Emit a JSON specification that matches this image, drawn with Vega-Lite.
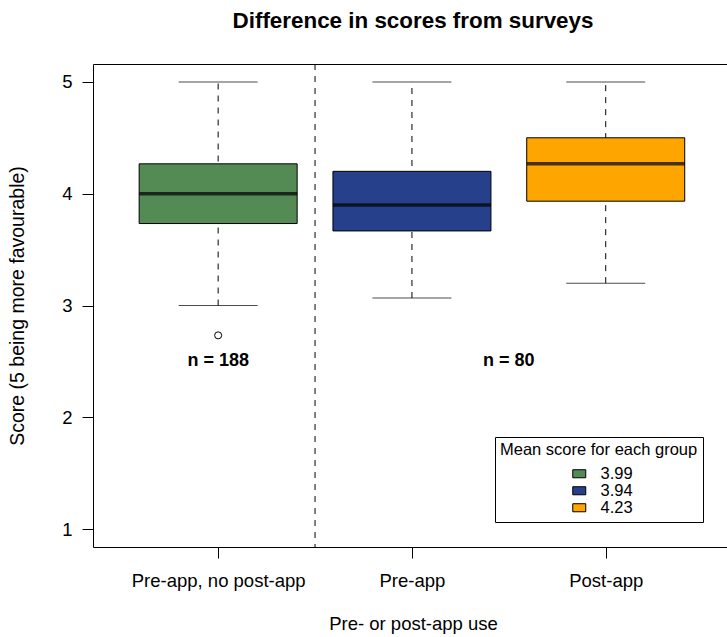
{
  "$schema": "https://vega.github.io/schema/vega-lite/v6.json",
  "autosize": {"type": "none"},
  "padding": {"left": 93, "top": 64, "right": 0, "bottom": 90},
  "width": 634,
  "height": 483,
  "background": "white",
  "title": {
    "text": "Difference in scores from surveys",
    "fontSize": 22.4,
    "fontWeight": "bold",
    "font": "Liberation Sans",
    "color": "black",
    "anchor": "middle",
    "dx": 3,
    "offset": 31
  },
  "config": {
    "font": "Liberation Sans",
    "view": {"stroke": "black", "strokeWidth": 1},
    "axis": {
      "grid": false,
      "domain": false,
      "tickColor": "black",
      "tickWidth": 1,
      "tickSize": 11,
      "labelColor": "black",
      "labelFontSize": 18.5,
      "titleColor": "black",
      "titleFontSize": 18.5,
      "titleFontWeight": "normal"
    }
  },
  "datasets": {
    "boxes": [
      {"group": "Pre-app, no post-app", "pos": 1, "mean": "3.99", "lower": 3.0, "q1": 3.733, "median": 4.0, "q3": 4.267, "upper": 5.0},
      {"group": "Pre-app", "pos": 2, "mean": "3.94", "lower": 3.067, "q1": 3.667, "median": 3.9, "q3": 4.2, "upper": 5.0},
      {"group": "Post-app", "pos": 3, "mean": "4.23", "lower": 3.2, "q1": 3.933, "median": 4.267, "q3": 4.5, "upper": 5.0}
    ],
    "outliers": [
      {"pos": 1, "score": 2.733}
    ],
    "counts": [
      {"pos": 1, "score": 2.5, "label": "n = 188"},
      {"pos": 2.5, "score": 2.5, "label": "n = 80"}
    ],
    "divider": [
      {"pos": 1.5}
    ]
  },
  "encoding": {
    "x": {
      "type": "quantitative",
      "scale": {"domain": [0.38, 3.6], "nice": false, "zero": false},
      "axis": {
        "title": "Pre- or post-app use",
        "values": [1, 2, 3],
        "labelExpr": "['', 'Pre-app, no post-app', 'Pre-app', 'Post-app'][datum.value]",
        "labelPadding": 13,
        "titlePadding": 25,
        "titleX": 320
      }
    }
  },
  "layer": [
    {
      "data": {"name": "divider"},
      "mark": {"type": "rule", "color": "black", "strokeWidth": 1, "strokeDash": [6, 6]},
      "encoding": {"x": {"field": "pos"}}
    },
    {
      "data": {"name": "boxes"},
      "mark": {"type": "rule", "color": "black", "strokeWidth": 1, "strokeDash": [6, 6]},
      "encoding": {
        "x": {"field": "pos"},
        "y": {
          "field": "lower",
          "type": "quantitative",
          "scale": {"domain": [0.84, 5.16], "nice": false, "zero": false},
          "axis": {
            "title": "Score (5 being more favourable)",
            "titleFontSize": 19.5,
            "values": [1, 2, 3, 4, 5],
            "format": "d",
            "labelPadding": 10,
            "titlePadding": 34
          }
        },
        "y2": {"field": "upper"}
      }
    },
    {
      "data": {"name": "boxes"},
      "mark": {"type": "tick", "orient": "horizontal", "size": 79, "thickness": 1, "color": "black"},
      "encoding": {"x": {"field": "pos"}, "y": {"field": "lower", "type": "quantitative"}}
    },
    {
      "data": {"name": "boxes"},
      "mark": {"type": "tick", "orient": "horizontal", "size": 79, "thickness": 1, "color": "black"},
      "encoding": {"x": {"field": "pos"}, "y": {"field": "upper", "type": "quantitative"}}
    },
    {
      "data": {"name": "boxes"},
      "mark": {"type": "bar", "orient": "vertical", "size": 158, "stroke": "black", "strokeWidth": 1, "opacity": 1},
      "encoding": {
        "x": {"field": "pos"},
        "y": {"field": "q1", "type": "quantitative"},
        "y2": {"field": "q3"},
        "color": {
          "field": "mean",
          "type": "nominal",
          "scale": {"domain": ["3.99", "3.94", "4.23"], "range": ["#548B54", "#27408B", "#FFA500"]},
          "legend": {
            "title": "Mean score for each group",
            "orient": "none",
            "legendX": 402,
            "legendY": 373,
            "padding": 5,
            "strokeColor": "black",
            "fillColor": "white",
            "cornerRadius": 0,
            "titleFontSize": 16.5,
            "titleFontWeight": "normal",
            "titleColor": "black",
            "titleLimit": 400,
            "titlePadding": 7,
            "labelFontSize": 16.5,
            "labelColor": "black",
            "labelOffset": 13,
            "symbolOffset": 71,
            "symbolType": "M-1,-0.62H1V0.62H-1Z",
            "symbolSize": 169,
            "symbolStrokeColor": "black",
            "symbolStrokeWidth": 1,
            "symbolOpacity": 1,
            "rowPadding": -2
          }
        }
      }
    },
    {
      "data": {"name": "boxes"},
      "mark": {"type": "tick", "orient": "horizontal", "size": 158, "thickness": 3.5, "color": "black"},
      "encoding": {"x": {"field": "pos"}, "y": {"field": "median", "type": "quantitative"}}
    },
    {
      "data": {"name": "outliers"},
      "mark": {"type": "point", "shape": "circle", "filled": false, "size": 50, "stroke": "black", "strokeWidth": 1, "opacity": 1},
      "encoding": {"x": {"field": "pos"}, "y": {"field": "score", "type": "quantitative"}}
    },
    {
      "data": {"name": "counts"},
      "mark": {"type": "text", "fontSize": 18, "fontWeight": "bold", "color": "black", "align": "center", "baseline": "middle"},
      "encoding": {"x": {"field": "pos"}, "y": {"field": "score", "type": "quantitative"}, "text": {"field": "label"}}
    }
  ]
}
